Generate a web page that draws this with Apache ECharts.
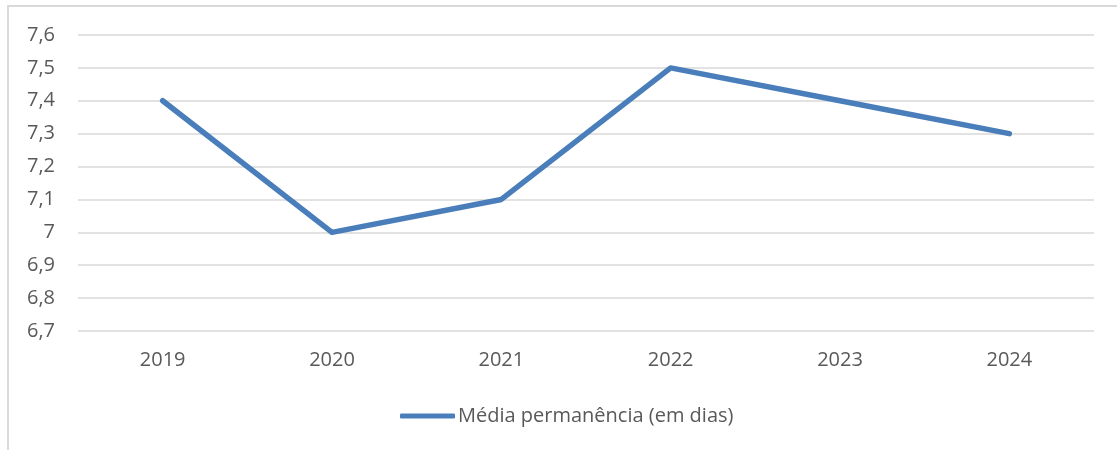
<!DOCTYPE html>
<html><head><meta charset="utf-8">
<script src="https://cdn.jsdelivr.net/npm/echarts@6/dist/echarts.min.js"></script>
<style>html,body{margin:0;padding:0;background:#fff;}
#frame{position:absolute;left:7px;top:5px;width:1200px;height:500px;border-left:2px solid #d9d9d9;border-top:2px solid #d9d9d9;box-sizing:border-box;}
#c{position:absolute;left:0;top:0;width:1117px;height:450px;}</style>
</head><body><div id="frame"></div><div id="c"></div>
<script>
const categories = ['2019','2020','2021','2022','2023','2024'];
const values = [7.4, 7.0, 7.1, 7.5, 7.4, 7.3];
const seriesName = 'Média permanência (em dias)';
const chart = echarts.init(document.getElementById('c'));
const font = '"Open Sans", "Noto Sans", sans-serif';
chart.setOption({
  animation:false,
  grid:{left:78,right:23,top:35,bottom:119},
  xAxis:{type:'category',data:categories,boundaryGap:true,
    axisLine:{show:false},axisTick:{show:false},
    axisLabel:{color:'#595959',fontSize:20,fontFamily:font,margin:19}},
  yAxis:{type:'value',min:6.7,max:7.6,interval:0.1,
    axisLine:{show:false},axisTick:{show:false},
    splitLine:{lineStyle:{color:'#d9d9d9',width:1.5}},
    axisLabel:{color:'#595959',fontSize:20,fontFamily:font,margin:23,
      formatter:v=>{const r=Math.round(v*10)/10;return String(r).replace('.',',');}}},
  legend:{top:401,left:395,itemWidth:55,itemHeight:5,itemGap:3,
    icon:'roundRect',
    textStyle:{color:'#595959',fontSize:20,fontFamily:font,padding:[0,0,0,-2]},
    data:[{name:seriesName,icon:'roundRect'}]},
  series:[{name:seriesName,type:'line',data:values,symbol:'none',
    lineStyle:{color:'#4a7ebb',width:5.5,cap:'round',join:'round'},
    itemStyle:{color:'#4a7ebb'}}]
});
</script></body></html>
